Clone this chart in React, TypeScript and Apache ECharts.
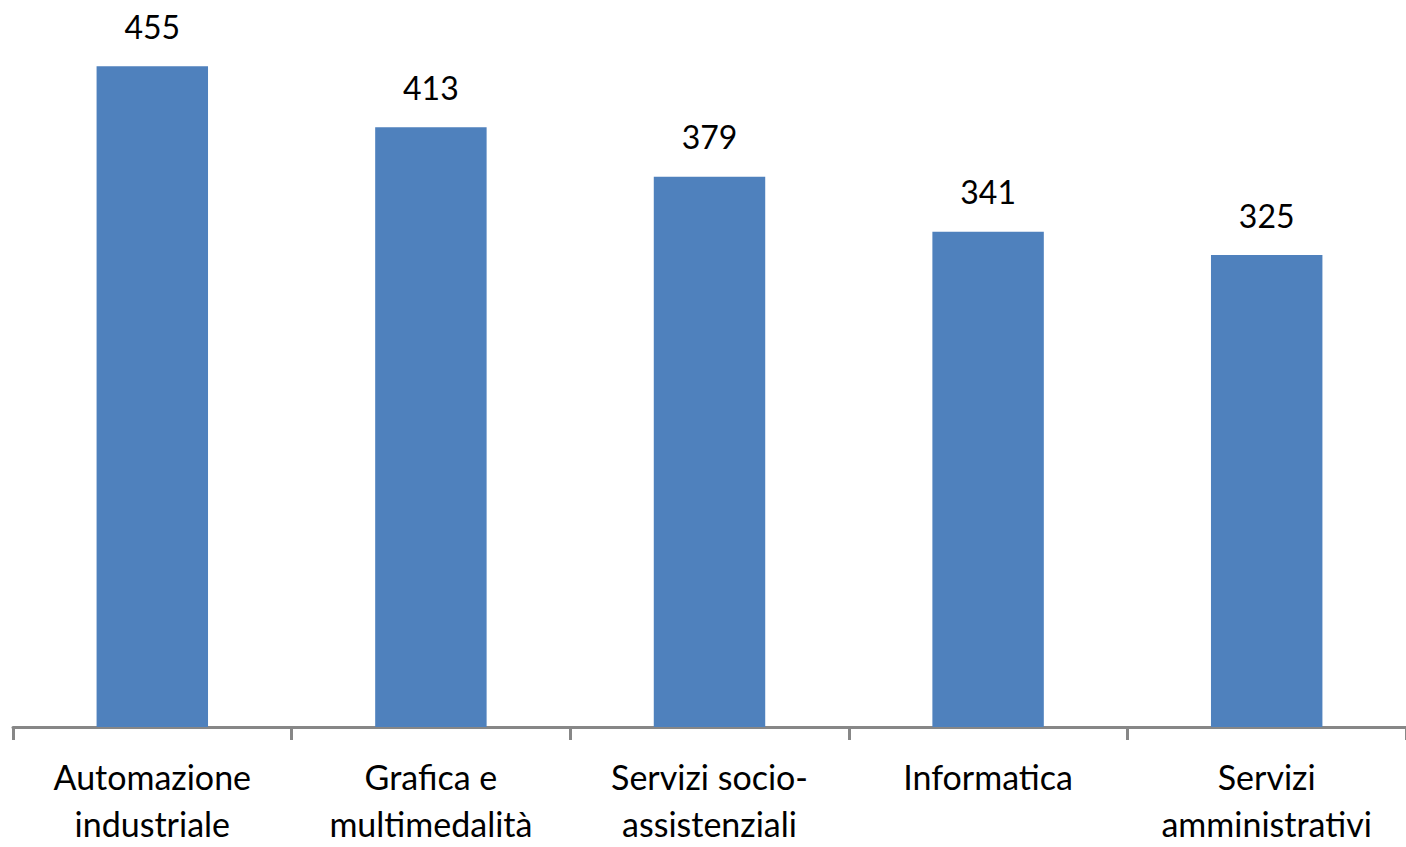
import React, { useEffect, useRef } from "react";
import * as echarts from "echarts";

const categories = [
  "Automazione\nindustriale",
  "Grafica e\nmultimedalità",
  "Servizi socio-\nassistenziali",
  "Informatica",
  "Servizi\namministrativi",
];
const values = [455, 413, 379, 341, 325];

export default function App() {
  const ref = useRef<HTMLDivElement>(null);
  useEffect(() => {
    const chart = echarts.init(ref.current!, undefined, { renderer: "svg" });
    chart.setOption({
      animation: false,
      grid: { left: 13, width: 1408, top: 1, bottom: 112, containLabel: false },
      xAxis: {
        type: "category",
        data: categories,
        axisLine: { lineStyle: { color: "#878787", width: 3 } },
        axisTick: { show: true, length: 13, lineStyle: { color: "#878787", width: 3 } },
        axisLabel: {
          interval: 0,
          color: "#000",
          fontFamily: "Lato",
          fontSize: 34,
          lineHeight: 47,
          margin: 26,
        },
      },
      yAxis: {
        type: "value",
        min: 0,
        max: 500,
        show: false,
        splitLine: { show: false },
      },
      series: [
        {
          type: "bar",
          data: values,
          barCategoryGap: "60%",
          itemStyle: { color: "#4F81BD" },
          label: {
            show: true,
            position: "top",
            distance: 24,
            color: "#000",
            fontFamily: "Lato",
            fontSize: 32,
          },
        },
      ],
    });
    return () => chart.dispose();
  }, []);
  return <div ref={ref} style={{ width: 1406, height: 847, position: "absolute", left: 0, top: 0 }} />;
}
